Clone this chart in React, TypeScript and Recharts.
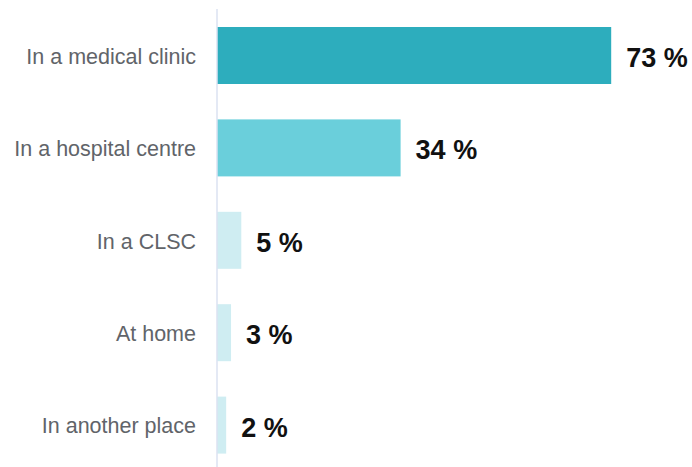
import React from "react";
import { Bar, BarChart, LabelList, XAxis, YAxis } from "recharts";

const places = [
  "In a medical clinic",
  "In a hospital centre",
  "In a CLSC",
  "At home",
  "In another place",
];
const shares = [73, 34, 4.5, 2.6, 1.7];
const barColors = ["#2DADBD", "#6ACFDB", "#CFEDF2", "#CFEDF2", "#CFEDF2"];

const data = places.map((place, i) => ({ place, share: shares[i], color: barColors[i] }));

const font = "'Liberation Sans', Arial, sans-serif";

// white halo round each bar so the axis line breaks around it
const BarShape = (props: any) => {
  const { x, y, width, height, payload } = props;
  return (
    <g>
      <rect x={x - 2} y={y - 3} width={width + 2} height={height + 6} fill="#ffffff" />
      <rect x={x + 0.5} y={y} width={Math.max(width - 0.5, 0)} height={height} fill={payload.color} />
    </g>
  );
};

export default function App() {
  return (
    <div style={{ position: "fixed", top: 0, left: 0, width: 692, height: 467, overflow: "hidden", background: "#fff" }}>
      <BarChart
        width={692}
        height={475}
        data={data}
        layout="vertical"
        margin={{ top: 9, right: 43, bottom: 4, left: 0 }}
        barSize={57}
      >
        <XAxis type="number" hide domain={[0, 80]} />
        <YAxis
          type="category"
          dataKey="place"
          width={217}
          tickSize={0}
          tickMargin={21}
          axisLine={{ stroke: "#C9D3EA", strokeWidth: 1 }}
          tickLine={false}
          tick={{ fill: "#616469", fontSize: 21.5, fontFamily: font, dy: 1 }}
        />
        <Bar dataKey="share" isAnimationActive={false} shape={<BarShape />}>
          <LabelList
            dataKey="share"
            position="right"
            offset={15}
            dy={2}
            formatter={(v: any) => `${Math.round(Number(v))} %`}
            style={{ fill: "#111111", fontSize: 27, fontWeight: "bold", fontFamily: font }}
          />
        </Bar>
      </BarChart>
    </div>
  );
}
